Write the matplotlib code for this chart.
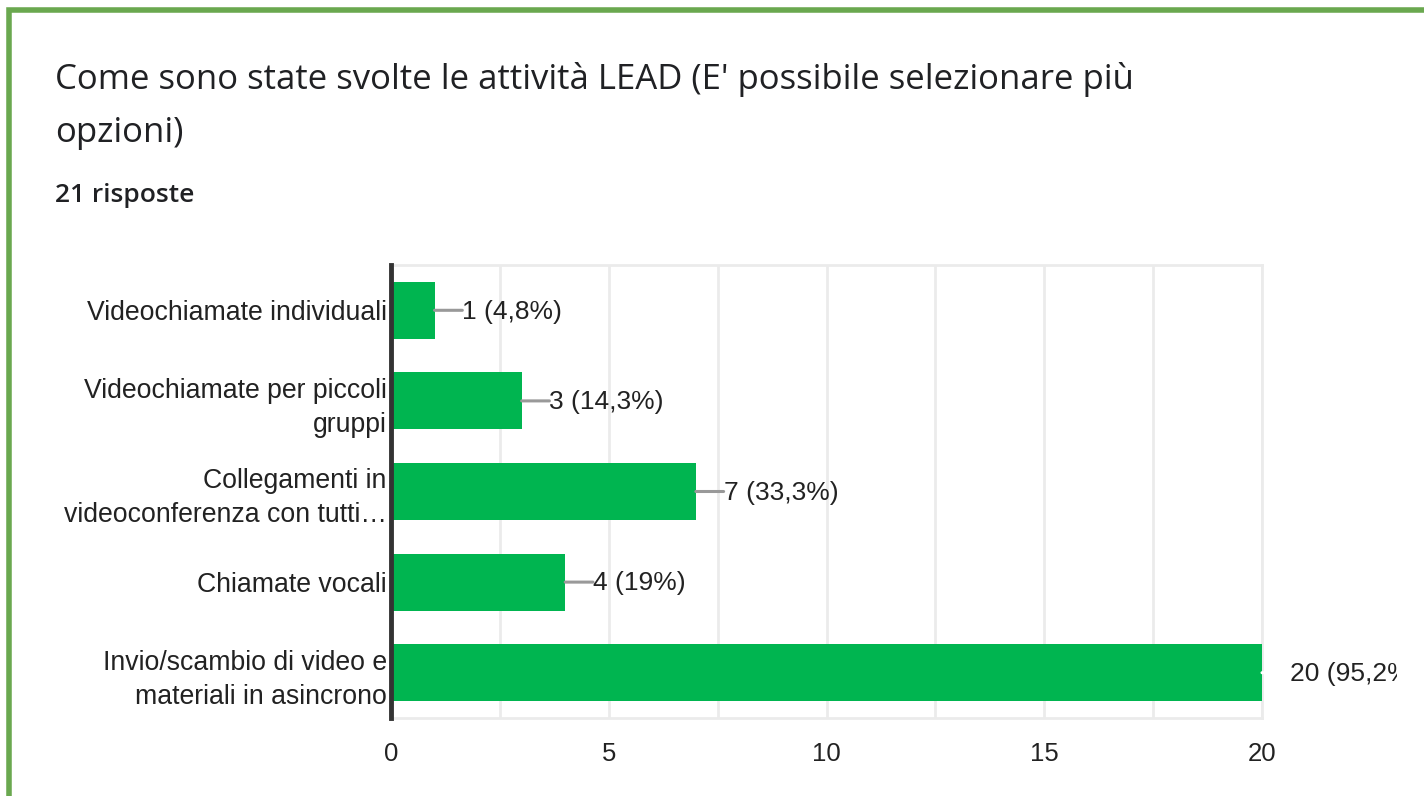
import matplotlib.pyplot as plt
from matplotlib.patches import Rectangle
from matplotlib.transforms import Bbox, TransformedBbox

title = "Come sono state svolte le attività LEAD (E' possibile selezionare più\nopzioni)"
subtitle = "21 risposte"

categories = [
    "Videochiamate individuali",
    "Videochiamate per piccoli\ngruppi",
    "Collegamenti in\nvideoconferenza con tutti…",
    "Chiamate vocali",
    "Invio/scambio di video e\nmateriali in asincrono",
]
counts = [1, 3, 7, 4, 20]
percent_labels = ["4,8%", "14,3%", "33,3%", "19%", "95,2%"]

bar_color = "#00b550"
text_color = "#222222"
xmax = 20

fig = plt.figure(figsize=(14.24, 7.96), dpi=100)
ax = fig.add_axes([391 / 1424, 1 - 718 / 796, 871 / 1424, 453 / 796])

y = list(range(len(categories)))
ax.barh(y, counts, height=0.63, color=bar_color, zorder=3)

ax.set_xlim(0, xmax)
ax.set_ylim(len(categories) - 0.5, -0.5)
ax.set_xticks([0, 5, 10, 15, 20])
ax.set_xticks([2.5, 7.5, 12.5, 17.5], minor=True)
ax.set_yticks(y)
ax.set_yticklabels(categories, family="Liberation Sans", fontsize=19.2,
                   color=text_color, ha="right", linespacing=1.4)
ax.tick_params(axis="y", length=0, pad=3)
ax.tick_params(axis="x", which="both", length=0, pad=17, labelsize=18.5,
               labelcolor=text_color)
for lbl in ax.get_xticklabels():
    lbl.set_family("Liberation Sans")

ax.grid(axis="x", which="both", color="#ebebeb", lw=2, zorder=0)
for side in ["top", "right", "bottom"]:
    ax.spines[side].set_color("#ebebeb")
    ax.spines[side].set_linewidth(2)
ax.spines["left"].set_color("#333333")
ax.spines["left"].set_linewidth(3.5)
ax.spines["left"].set_zorder(5)

clip = TransformedBbox(Bbox([[0, 0], [1397 / 1424, 1]]), fig.transFigure)
for i, (c, p) in enumerate(zip(counts, percent_labels)):
    line_color = "#999999" if c < xmax else "white"
    ax.annotate("", xy=(c, i), xytext=(20, 0), textcoords="offset points",
                arrowprops=dict(arrowstyle="-", color=line_color, lw=2.2,
                                shrinkA=0, shrinkB=0), annotation_clip=False)
    t = ax.annotate(f"{c} ({p})", xy=(c, i), xytext=(20, -1),
                    textcoords="offset points", va="center", ha="left",
                    fontsize=19, family="Liberation Sans", color=text_color,
                    annotation_clip=False)
    t.set_clip_box(clip)
    t.set_clip_on(True)

fig.text(55 / 1424, 1 - 62 / 796, title, family="Open Sans", fontsize=25,
         color="#202124", va="top", ha="left", linespacing=1.72)
fig.text(55 / 1424, 1 - 195 / 796, subtitle, family="Open Sans", fontsize=19,
         color="#202124", va="center", ha="left", weight="semibold")

fig.patches.append(Rectangle((8.5 / 1424, -0.1), 1.2, 1 - 10 / 796 + 0.1,
                             transform=fig.transFigure, fill=False,
                             edgecolor="#6aa84f", lw=4))

fig.savefig("out.png", dpi=100)
